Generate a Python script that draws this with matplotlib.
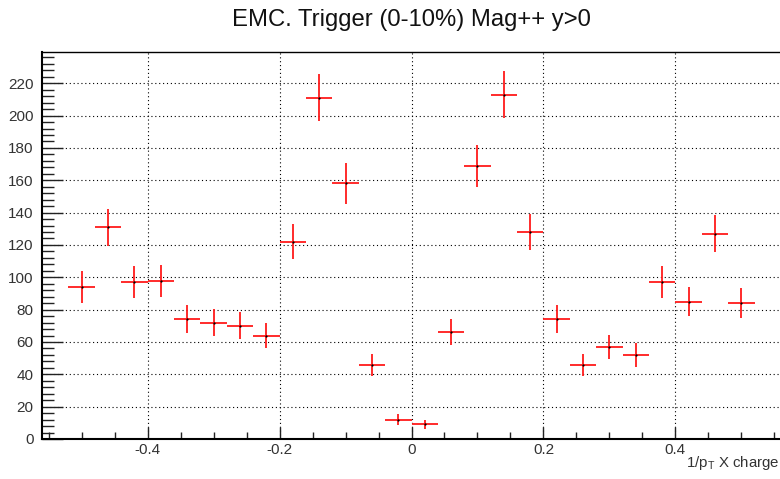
import numpy as np
from matplotlib import pyplot as plt
from matplotlib.ticker import MultipleLocator

plt.rcParams['font.family'] = ['Liberation Sans', 'DejaVu Sans']

# bin centres (1/pT x charge) and counts
x_centres = [-0.50, -0.46, -0.42, -0.38, -0.34, -0.30, -0.26, -0.22, -0.18,
             -0.14, -0.10, -0.06, -0.02, 0.02, 0.06, 0.10, 0.14, 0.18,
             0.22, 0.26, 0.30, 0.34, 0.38, 0.42, 0.46, 0.50]
counts = [94, 131, 97, 98, 74, 72, 70, 64, 122,
          211, 158, 46, 12, 9, 66, 169, 213, 128,
          74, 46, 57, 52, 97, 85, 127, 84]
count_err = [9.7, 11.4, 9.8, 9.9, 8.6, 8.5, 8.4, 8.0, 11.0,
             14.5, 12.6, 6.8, 3.5, 3.0, 8.1, 13.0, 14.6, 11.3,
             8.6, 6.8, 7.5, 7.2, 9.8, 9.2, 11.3, 9.2]
bin_half = [0.02] * len(x_centres)

fig = plt.figure(figsize=(7.8, 4.79), dpi=100)
ax = fig.add_axes([42 / 780, 40 / 479, 739 / 780, 387.3 / 479])

ax.errorbar(x_centres, counts, xerr=bin_half, yerr=count_err, fmt='none',
            ecolor='#ff1a1a', elinewidth=1.3, capsize=0, zorder=3)
ax.plot(x_centres, counts, 's', color='black', markersize=0.6, zorder=4)

ax.set_xlim(-0.56, 0.56)
ax.set_ylim(0, 239.5)

ax.xaxis.set_major_locator(MultipleLocator(0.2))
ax.xaxis.set_minor_locator(MultipleLocator(0.05))
ax.yaxis.set_major_locator(MultipleLocator(20))
ax.yaxis.set_minor_locator(MultipleLocator(4))

ax.tick_params(axis='both', which='both', direction='in', top=False, right=False,
               labelsize=11, width=1.0, colors='#222222', labelcolor='#333333')
ax.tick_params(axis='y', which='major', length=15, pad=6)
ax.tick_params(axis='y', which='minor', length=8.5)
ax.tick_params(axis='x', which='major', length=8.5, pad=3)
ax.tick_params(axis='x', which='minor', length=5)

ax.set_xticks([-0.4, -0.2, 0, 0.2, 0.4])
ax.set_xticklabels(['-0.4', '-0.2', '0', '0.2', '0.4'])

ax.grid(True, which='major', color='black', linestyle=(0, (1, 2.5)), linewidth=0.8)
ax.set_axisbelow(True)

for side in ['left', 'bottom']:
    ax.spines[side].set_linewidth(1.5)
ax.spines['top'].set_linewidth(1.0)
ax.spines['right'].set_linewidth(1.0)

fig.text(0.528, 0.958, 'EMC. Trigger (0-10%) Mag++ y>0', ha='center', va='center',
         fontsize=17.2, color='#111111')
fig.text(0.999, 0.033, '1/p$_{\\mathregular{T}}$ X charge', ha='right', va='center',
         fontsize=10.8, color='#333333')

fig.savefig('out.png', dpi=100)
